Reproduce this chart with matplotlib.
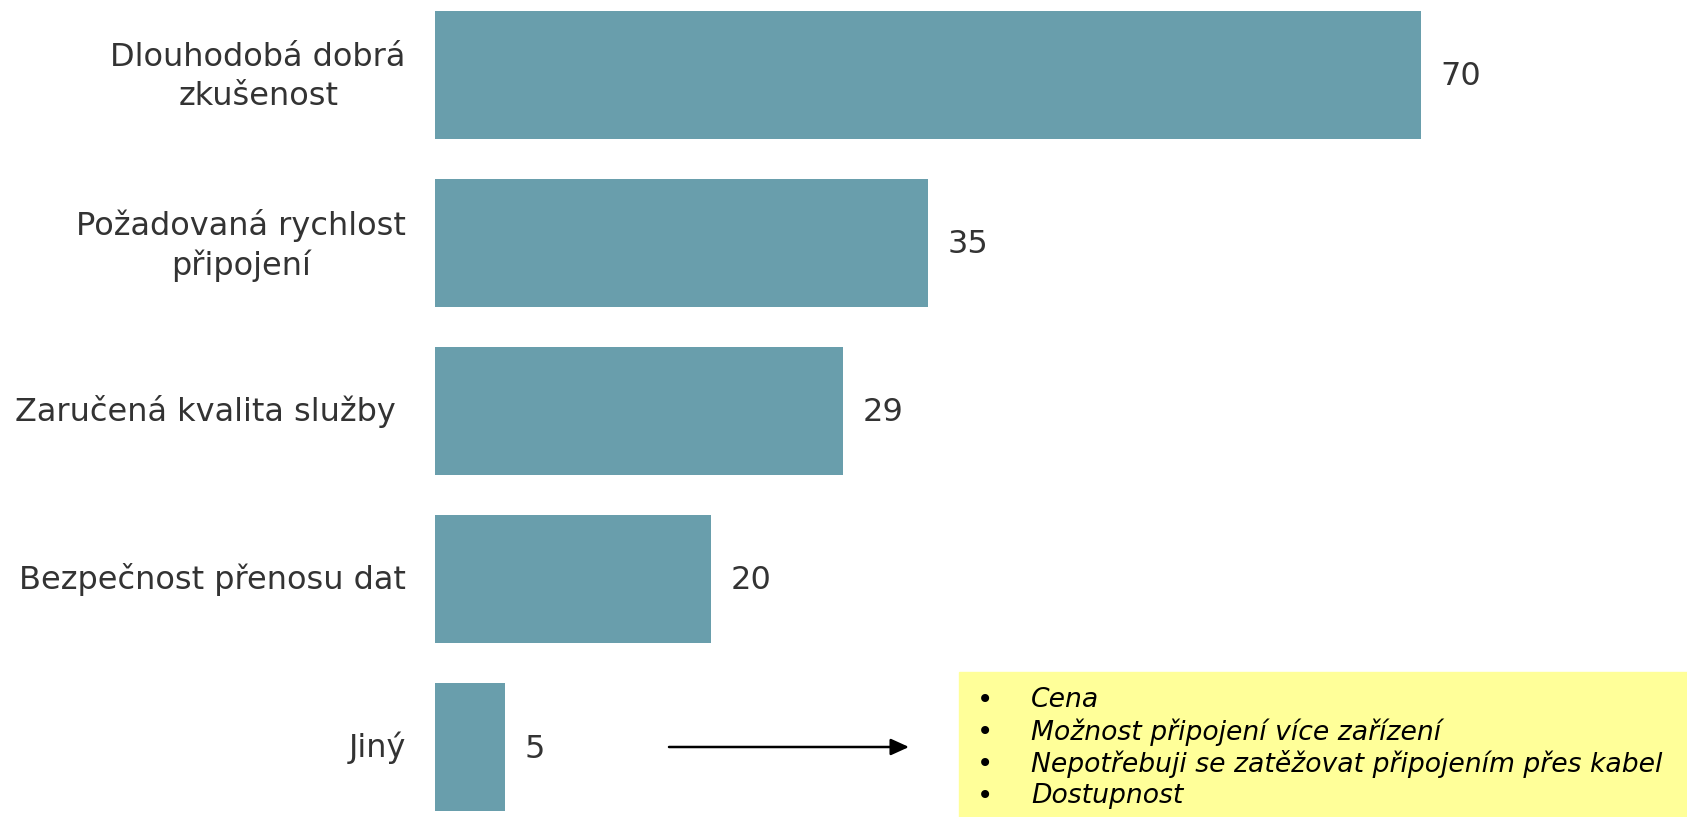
import matplotlib.pyplot as plt
from matplotlib.transforms import ScaledTranslation

# hodnoty z grafu (shora dolu)
categories = ["Dlouhodobá dobrá\nzkušenost", "Požadovaná rychlost\npřipojení",
              "Zaručená kvalita služby ", "Bezpečnost přenosu dat", "Jiný"]
values = [70, 35, 29, 19.6, 5]
other_items = ["Cena", "Možnost připojení více zařízení",
               "Nepotřebuji se zatěžovat připojením přes kabel", "Dostupnost"]

bar_color = "#699EAC"
text_color = "#333333"

fig = plt.figure(figsize=(16.87, 8.17), dpi=100)
ax = fig.add_axes([435 / 1687, 0, 1 - 435 / 1687, 1])

y = list(range(len(values)))
ax.barh(y, values, height=0.76, color=bar_color)
ax.set_xlim(0, 88.9)
ax.set_ylim(4.417, -0.445)

ax.set_yticks(y)
ax.set_yticklabels(categories, fontsize=23, color=text_color, ha="right",
                   multialignment="center", linespacing=1.3)
ax.tick_params(axis="y", length=0, pad=21)
ax.set_xticks([])
for s in ax.spines.values():
    s.set_visible(False)

# popisky kategorii trochu nahoru
for lbl, cat in zip(ax.get_yticklabels(), categories):
    dy = 3.5 if "\n" in cat else 1.8
    lbl.set_transform(lbl.get_transform() + ScaledTranslation(0, dy / 72, fig.dpi_scale_trans))

for yi, v in zip(y, values):
    ax.annotate(f"{v:.0f}", (v, yi), xytext=(14, -1.5), textcoords="offset points",
                va="center", ha="left", fontsize=23, color=text_color)

# zluty ramecek a sipka k poli "Jiny"
fig.patches.append(plt.Rectangle((959 / 1687, 0), 1 - 959 / 1687, 145 / 817,
                                 transform=fig.transFigure, color="#FFFF99", zorder=0))
ax.annotate("", xy=(909 / 1687, 70 / 817), xytext=(669 / 1687, 70 / 817),
            xycoords="figure fraction", textcoords="figure fraction",
            arrowprops=dict(arrowstyle="-|>,head_length=1.1,head_width=0.5", color="black",
                            lw=1.8, shrinkA=0, shrinkB=0))

for i, item in enumerate(other_items):
    ypos = (817 - 700 - 32 * i) / 817
    fig.text(985 / 1687, ypos, "•", fontsize=20, va="center", ha="center")
    fig.text(1031 / 1687, ypos, item, fontsize=19.2, style="italic", va="center", ha="left")

fig.savefig("out.png", dpi=100)
